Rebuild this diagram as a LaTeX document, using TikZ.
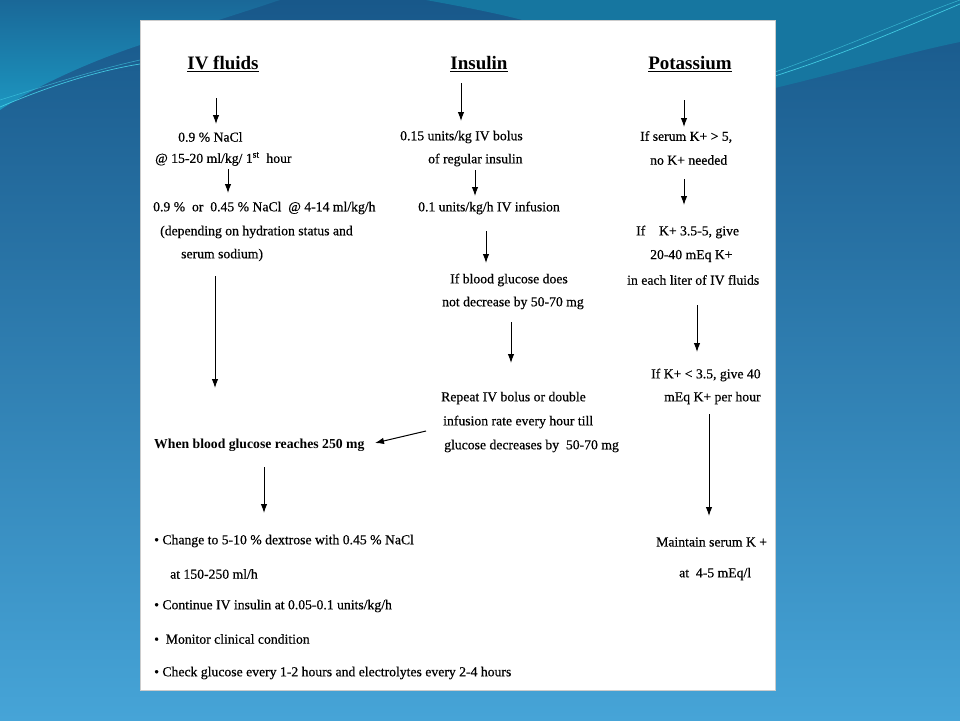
\documentclass[tikz,border=0pt]{standalone}
\usepackage{fontspec}
\setmainfont{Liberation Serif}
\newfontfamily\bodyfont[FakeBold=0.5]{Liberation Serif}
\usetikzlibrary{arrows.meta}
\definecolor{bgtop}{RGB}{24,88,138}
\definecolor{bgbot}{RGB}{70,164,215}
\definecolor{tealtop}{RGB}{26,104,152}
\definecolor{tealbot}{RGB}{28,150,192}
\definecolor{tealr}{RGB}{22,118,160}
\definecolor{wave}{RGB}{70,210,232}
\begin{document}
\begin{tikzpicture}[x=1pt,y=-1pt,
  txt/.style={anchor=west,inner sep=0pt,font=\bodyfont\fontsize{13.7}{16}\selectfont},
  btxt/.style={txt,font=\fontsize{13.7}{16}\selectfont\bfseries},
  head/.style={inner sep=0pt,font=\fontsize{19}{22}\selectfont\bfseries},
  arr/.style={-{Latex[length=9pt,width=6.5pt]},line width=1pt}]
\useasboundingbox (0,0) rectangle (960,720);
\shade[top color=bgtop,bottom color=bgbot] (0,0) rectangle (960,720);
% background decoration
\shade[top color=tealtop,bottom color=tealbot] (0,0) -- (280,0) .. controls (220,20) and (170,35) .. (140,45) .. controls (80,65) and (30,90) .. (0,110) -- cycle;
\fill[tealr] (426,0) .. controls (470,8) and (500,14) .. (530,22) -- (775,22) -- (775,88) .. controls (850,70) and (910,52) .. (960,42) -- (960,0) -- cycle;
\draw[wave,opacity=0.9,line width=0.7pt] (775,76) .. controls (850,52) and (910,25) .. (960,4);
\draw[wave,opacity=0.6,line width=0.6pt] (775,72) .. controls (850,45) and (910,18) .. (960,0);
\draw[wave,opacity=0.9,line width=0.7pt] (0,107) .. controls (40,90) and (90,72) .. (140,64);
\draw[wave,opacity=0.6,line width=0.6pt] (0,100) .. controls (45,86) and (95,70) .. (140,60);
% slide
\fill[white] (140,20) rectangle (775,690);
\draw[black!20,line width=0.5pt] (140,20) rectangle (775,690);

% headings
\node[head] (hiv) at (223,64) {\underline{IV fluids}};
\node[head] (hins) at (479,64) {\underline{Insulin}};
\node[head] (hk) at (690,64) {\underline{Potassium}};

% IV fluids column
\node[txt] (iv1) at (178,137) {0.9 \% NaCl};
\node[txt] (iv2) at (155,159) {@ 15-20 ml/kg/ 1\textsuperscript{st}\ \ hour};
\node[txt] (iv3) at (153,208) {0.9 \%\ \ or\ \ 0.45 \% NaCl\ \ @ 4-14 ml/kg/h};
\node[txt] (iv4) at (160,232) {(depending on hydration status and};
\node[txt] (iv5) at (181,255) {serum sodium)};
\node[btxt] (bg) at (154,445) {When blood glucose reaches 250 mg};
\node[txt] (b1) at (154,541) {\textbullet\ Change to 5-10 \% dextrose with 0.45 \% NaCl};
\node[txt] (b1b) at (170,574) {at 150-250 ml/h};
\node[txt] (b2) at (154,606) {\textbullet\ Continue IV insulin at 0.05-0.1 units/kg/h};
\node[txt] (b3) at (154,639) {\textbullet\ \ Monitor clinical condition};
\node[txt] (b4) at (154,673) {\textbullet\ Check glucose every 1-2 hours and electrolytes every 2-4 hours};

% Insulin column
\node[txt] (in1) at (400,137) {0.15 units/kg IV bolus};
\node[txt] (in2) at (428,160) {of regular insulin};
\node[txt] (in3) at (418,208) {0.1 units/kg/h IV infusion};
\node[txt] (in4) at (450,280) {If blood glucose does};
\node[txt] (in5) at (442,303) {not decrease by 50-70 mg};
\node[txt] (in6) at (441,398) {Repeat IV bolus or double};
\node[txt] (in7) at (443,422) {infusion rate every hour till};
\node[txt] (in8) at (444,446) {glucose decreases by\ \ 50-70 mg};

% Potassium column
\node[txt] (k1) at (640,137) {If serum K+ > 5,};
\node[txt] (k2) at (650,160) {no K+ needed};
\node[txt] (k3) at (636,232) {If\ \ \ \ K+ 3.5-5, give};
\node[txt] (k4) at (650,256) {20-40 mEq K+};
\node[txt] (k5) at (627,280) {in each liter of IV fluids};
\node[txt] (k6) at (651,375) {If K+ < 3.5, give 40};
\node[txt] (k7) at (664,398) {mEq K+ per hour};
\node[txt] (k8) at (656,542) {Maintain serum K +};
\node[txt] (k9) at (679,574) {at\ \ 4-5 mEq/l};

% arrow end points
\coordinate (a1s) at (216,98);  \coordinate (a1e) at (216,124);
\coordinate (a2s) at (228,169); \coordinate (a2e) at (228,193);
\coordinate (a3s) at (215,276); \coordinate (a3e) at (215,388);
\coordinate (a4s) at (264,467); \coordinate (a4e) at (264,513);
\coordinate (a5s) at (461,83);  \coordinate (a5e) at (461,121);
\coordinate (a6s) at (475,170); \coordinate (a6e) at (475,196);
\coordinate (a7s) at (486,231); \coordinate (a7e) at (486,263);
\coordinate (a8s) at (511,322); \coordinate (a8e) at (511,363);
\coordinate (a9s) at (426,431); \coordinate (a9e) at (375,443);
\coordinate (a10s) at (684,100); \coordinate (a10e) at (684,127);
\coordinate (a11s) at (684,179); \coordinate (a11e) at (684,205);
\coordinate (a12s) at (697,305); \coordinate (a12e) at (697,352);
\coordinate (a13s) at (709,414); \coordinate (a13e) at (709,516);

\foreach \i in {1,...,13} \draw[arr] (a\i s) -- (a\i e);
\end{tikzpicture}
\end{document}
